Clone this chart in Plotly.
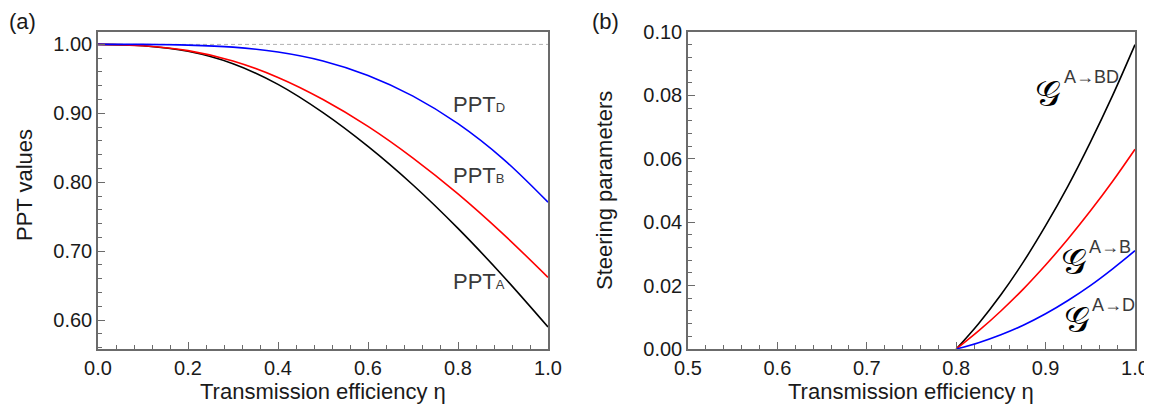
import plotly.graph_objects as go

# The page body has an 8 px margin, so the figure is drawn 8 px in from the
# top-left corner of the 1152x411 window; size it to fill the rest.
OFF = 8
W, H = 1152 - OFF, 411 - OFF

# ---------------- data ----------------
eta_ppt = [0.0, 0.1, 0.2, 0.3, 0.4, 0.5, 0.6, 0.7, 0.8, 0.9, 1.0]
ppt_A = [1.000, 0.998, 0.990, 0.972, 0.942, 0.901, 0.852, 0.796, 0.733, 0.664, 0.590]
ppt_B = [1.000, 0.998, 0.991, 0.976, 0.952, 0.920, 0.881, 0.835, 0.783, 0.725, 0.662]
ppt_D = [1.000, 1.000, 0.999, 0.996, 0.989, 0.976, 0.955, 0.925, 0.885, 0.834, 0.771]
ref_eta = [0.0, 1.0]
ref_level = [1.0, 1.0]

eta_steer = [0.800, 0.825, 0.850, 0.875, 0.900, 0.925, 0.950, 0.975, 1.000]
steer_ABD = [0.0, 0.0080, 0.0171, 0.0274, 0.0389, 0.0514, 0.0652, 0.0800, 0.0960]
steer_AB = [0.0, 0.0057, 0.0120, 0.0189, 0.0265, 0.0347, 0.0435, 0.0529, 0.0630]
steer_AD = [0.0, 0.0020, 0.0045, 0.0075, 0.0111, 0.0153, 0.0200, 0.0253, 0.0310]

x_ticks_a = [0.0, 0.2, 0.4, 0.6, 0.8, 1.0]
y_ticks_a = [0.60, 0.70, 0.80, 0.90, 1.00]
x_ticks_b = [0.5, 0.6, 0.7, 0.8, 0.9, 1.0]
y_ticks_b = [0.00, 0.02, 0.04, 0.06, 0.08, 0.10]

# ---------------- layout helpers (window pixel -> paper) ----------------
def px(x):
    return (x - OFF) / W

def py(y):
    return 1 - (y - OFF) / H

FONT = "Liberation Sans, Arial, sans-serif"
AXC = "#6b6b6b"
TXT = "#1a1a1a"
LBL = "#3a3a3a"

fig = go.Figure()

fig.add_trace(go.Scatter(x=ref_eta, y=ref_level, mode="lines",
                         line=dict(color="#b0b0b0", width=1, dash="4px,3px"),
                         xaxis="x", yaxis="y", showlegend=False, hoverinfo="skip"))
for ys, col in [(ppt_A, "#000000"), (ppt_B, "#ff0000"), (ppt_D, "#0000ff")]:
    fig.add_trace(go.Scatter(x=eta_ppt, y=ys, mode="lines",
                             line=dict(color=col, width=1.6, shape="spline", smoothing=1.0),
                             xaxis="x", yaxis="y", showlegend=False))
for ys, col in [(steer_ABD, "#000000"), (steer_AB, "#ff0000"), (steer_AD, "#0000ff")]:
    fig.add_trace(go.Scatter(x=eta_steer, y=ys, mode="lines",
                             line=dict(color=col, width=1.6, shape="spline", smoothing=1.0),
                             xaxis="x2", yaxis="y2", showlegend=False))

def axis(domain, rng, tickvals, fmt, minor_dtick, anchor):
    return dict(domain=domain, range=rng, tickvals=tickvals, tickformat=fmt,
                automargin=False,
                showline=True, linecolor=AXC, linewidth=1.5, mirror=True,
                ticks="inside", ticklen=7, tickwidth=1, tickcolor=AXC,
                showgrid=False, zeroline=False, anchor=anchor,
                tickfont=dict(family=FONT, size=20, color=TXT),
                minor=dict(dtick=minor_dtick, tick0=0, ticks="inside", ticklen=4,
                           tickwidth=1, tickcolor=AXC, showgrid=False))

ydom = [py(349), py(32)]
fig.update_layout(
    width=W, height=H,
    margin=dict(l=0, r=0, t=0, b=0, autoexpand=False),
    paper_bgcolor="white", plot_bgcolor="white",
    font=dict(family=FONT, color=TXT),
    xaxis=axis([px(98), px(548)], [0, 1.0], x_ticks_a, ".1f", 0.04, "y"),
    yaxis=axis(ydom, [0.558, 1.018], y_ticks_a, ".2f", 0.02, "x"),
    xaxis2=axis([px(688), px(1135)], [0.5, 1.0], x_ticks_b, ".1f", 0.02, "y2"),
    yaxis2=axis(ydom, [0, 0.1], y_ticks_b, ".2f", 0.004, "x2"),
)

ann = []
def text(x, y, t, size=22, color=TXT, angle=0, xanchor="center", yanchor="middle"):
    ann.append(dict(x=px(x), y=py(y), xref="paper", yref="paper", text=t, showarrow=False,
                    textangle=angle, xanchor=xanchor, yanchor=yanchor,
                    font=dict(family=FONT, size=size, color=color)))

text(22, 22, "(a)", size=22)
text(605, 22, "(b)", size=22)
text(323, 391, "Transmission efficiency η")
text(911, 391, "Transmission efficiency η")
text(24, 185, "PPT values", angle=-90)
text(605, 191, "Steering parameters", angle=-90)

sub = "<span style='font-size:13px'>%s</span>"
text(451, 105, "PPT" + sub % "D", size=22, color=LBL, xanchor="left")
text(451, 176, "PPT" + sub % "B", size=22, color=LBL, xanchor="left")
text(451, 281, "PPT" + sub % "A", size=22, color=LBL, xanchor="left")

# script G with superscripts (glyph and superscript placed separately)
for gx, gy, sx, sy, s in [(1048, 93, 1062, 77, "A→BD"),
                          (1074, 261, 1087, 247, "A→B"),
                          (1077, 319, 1090, 305, "A→D")]:
    text(gx, gy, "𝒢", size=36, color="#000000")
    text(sx, sy, s, size=18, color=LBL, xanchor="left")

fig.update_layout(annotations=ann)
fig.write_html("out.html")
